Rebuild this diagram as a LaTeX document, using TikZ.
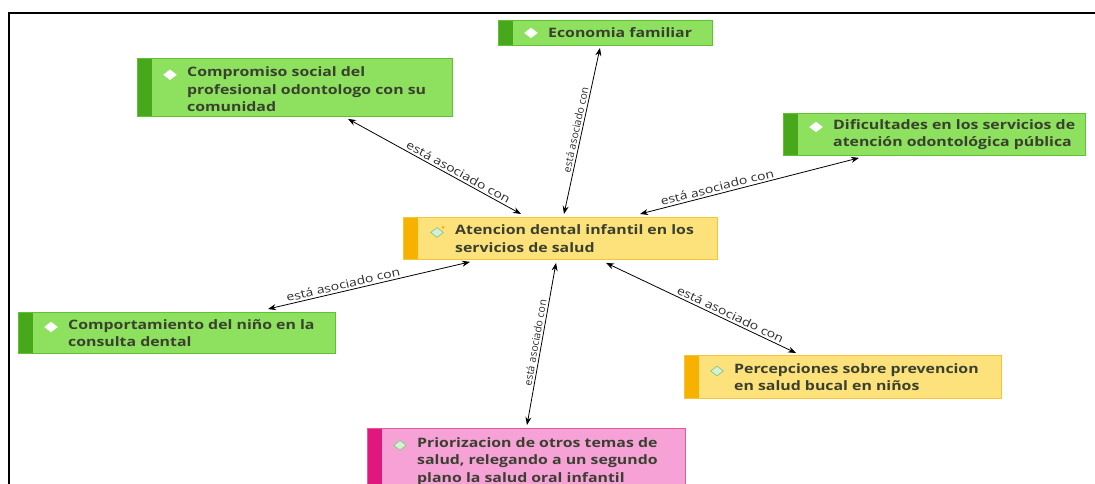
\documentclass[tikz,border=0pt]{standalone}
\usepackage{fontspec}
\setmainfont{Open Sans}[FakeStretch=1.22]
\newfontfamily\uprightlabel{Open Sans}
\usetikzlibrary{arrows.meta,shapes.geometric,calc}

% concept colours: fill, border, side strip
\definecolor{gfill}{HTML}{8DE15E}
\definecolor{gborder}{HTML}{62C033}
\definecolor{gstrip}{HTML}{46A81A}
\definecolor{yfill}{HTML}{FDE27B}
\definecolor{yborder}{HTML}{F3C53A}
\definecolor{ystrip}{HTML}{F7B200}
\definecolor{pfill}{HTML}{F7A2D7}
\definecolor{pborder}{HTML}{E9559F}
\definecolor{pstrip}{HTML}{E0187E}
\definecolor{txtcol}{HTML}{3A4030}
\definecolor{lblcol}{HTML}{2E2E2E}
\definecolor{diamfill}{HTML}{D6F0D6}
\definecolor{diamdraw}{HTML}{86C786}

\tikzset{
  box/.style={rectangle, draw=#1border, fill=#1fill, line width=0.9pt,
    anchor=north west, inner sep=0pt,
    path picture={\fill[#1strip] (path picture bounding box.south west)
      rectangle ([xshift=15pt]path picture bounding box.north west);}},
  boxtext/.style={anchor=west, align=left, inner sep=0pt, text=txtcol,
    font=\bfseries\fontsize{13}{17.5}\selectfont},
  diamw/.style={diamond, draw=white, fill=white, inner sep=0pt,
    minimum width=13pt, minimum height=10pt},
  diamc/.style={diamond, draw=diamdraw, fill=diamfill, line width=0.7pt,
    inner sep=0pt, minimum width=13pt, minimum height=10pt},
  assoc/.style={{Stealth[length=8pt,width=6pt]}-{Stealth[length=8pt,width=6pt]},
    line width=0.8pt, black},
  lbl/.style={sloped, above, inner sep=2pt, text=lblcol,
    font=\fontsize{11.5}{13}\selectfont},
  lblv/.style={sloped, above, inner sep=2pt, text=lblcol,
    font=\uprightlabel\fontsize{10.5}{12}\selectfont},
}

\begin{document}
\begin{tikzpicture}[x=1pt, y=-1pt]
\useasboundingbox (0,0) rectangle (1095,484);
\clip (0,0) rectangle (1095,484);

% outer frame
\draw[line width=2pt] (1095,13) -- (9,13) -- (9,490);

% central concept
\node[box=y, minimum width=314pt, minimum height=42pt] (cen) at (403,217) {};
\node[boxtext] (cenT) at ([xshift=52pt]cen.west)
  {Atencion dental infantil en los\\servicios de salud};
\node[diamc] (cenD) at ([xshift=-18pt,yshift=-8pt]cenT.north west) {};
\node[circle, fill=ystrip, inner sep=0pt, minimum size=3pt] (cenDot)
  at ([xshift=6pt,yshift=5pt]cenD.center) {};

% economia familiar
\node[box=g, minimum width=214pt, minimum height=25pt] (eco) at (498,20) {};
\node[boxtext] (ecoT) at ([xshift=50pt]eco.west) {Economia familiar};
\node[diamw] (ecoD) at ([xshift=-17pt]ecoT.west) {};

% compromiso social
\node[box=g, minimum width=315pt, minimum height=58pt] (comp) at (137,58) {};
\node[boxtext] (compT) at ([xshift=50pt,yshift=-2pt]comp.west)
  {Compromiso social del\\profesional odontologo con su\\comunidad};
\node[diamw] (compD) at ([xshift=-17pt,yshift=-8pt]compT.north west) {};

% dificultades
\node[box=g, minimum width=302pt, minimum height=42pt] (dif) at (783,113) {};
\node[boxtext] (difT) at ([xshift=50pt]dif.west)
  {Dificultades en los servicios de\\atención odontológica pública};
\node[diamw] (difD) at ([xshift=-17pt,yshift=-8pt]difT.north west) {};

% comportamiento
\node[box=g, minimum width=317pt, minimum height=41pt] (comport) at (18,312) {};
\node[boxtext] (comportT) at ([xshift=50pt]comport.west)
  {Comportamiento del niño en la\\consulta dental};
\node[diamw] (comportD) at ([xshift=-17pt,yshift=-8pt]comportT.north west) {};

% percepciones
\node[box=y, minimum width=317pt, minimum height=43pt] (perc) at (684,355) {};
\node[boxtext] (percT) at ([xshift=50pt]perc.west)
  {Percepciones sobre prevencion\\en salud bucal en niños};
\node[diamc] (percD) at ([xshift=-17pt,yshift=-8pt]percT.north west) {};

% priorizacion
\node[box=p, minimum width=318pt, minimum height=62pt] (prior) at (367,428) {};
\node[boxtext] (priorT) at ([xshift=50pt,yshift=-2pt]prior.west)
  {Priorizacion de otros temas de\\salud, relegando a un segundo\\plano la salud oral infantil};
\node[diamc] (priorD) at ([xshift=-17pt,yshift=-8pt]priorT.north west) {};

% associations
\draw[assoc] ([xshift=211pt,yshift=-2pt]comp.south west)
  -- node[lbl, pos=0.62] {está asociado con} ([xshift=118pt,yshift=3pt]cen.north west);
\draw[assoc] ([xshift=102pt,yshift=-2pt]eco.south west)
  -- node[lblv, pos=0.5] {está asociado con} ([xshift=161pt,yshift=3pt]cen.north west);
\draw[assoc] ([xshift=76pt,yshift=-2pt]dif.south west)
  -- node[lbl, pos=0.64] {está asociado con} ([xshift=237pt,yshift=3pt]cen.north west);
\draw[assoc] ([xshift=250pt,yshift=3pt]comport.north west)
  -- node[lbl, pos=0.38] {está asociado con} ([xshift=67pt,yshift=-2pt]cen.south west);
\draw[assoc] ([xshift=160pt,yshift=3pt]prior.north west)
  -- node[lblv, pos=0.5] {está asociado con} ([xshift=153pt,yshift=-3pt]cen.south west);
\draw[assoc] ([xshift=112pt,yshift=2pt]perc.north west)
  -- node[lbl, pos=0.36] {está asociado con} ([xshift=203pt,yshift=-3pt]cen.south west);
\end{tikzpicture}
\end{document}
